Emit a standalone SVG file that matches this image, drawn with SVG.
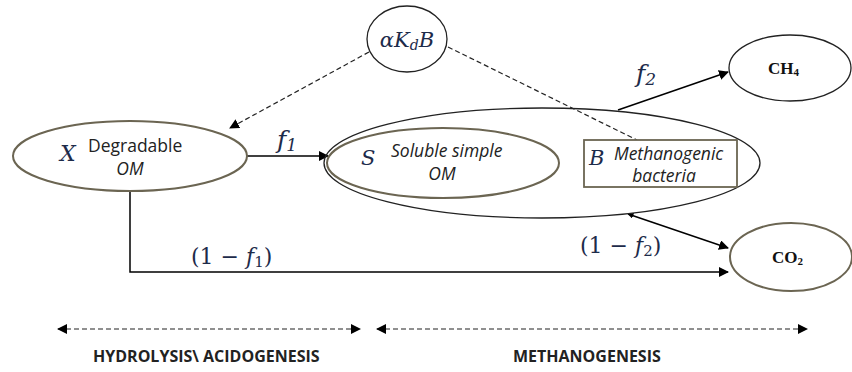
<svg xmlns="http://www.w3.org/2000/svg" width="852" height="372" viewBox="0 0 852 372">
<defs>
<marker id="ah" viewBox="0 0 10 10" refX="9" refY="5" markerWidth="10" markerHeight="10" markerUnits="userSpaceOnUse" orient="auto"><path d="M0,0 L10,5 L0,10 z" fill="#000"/></marker>
<marker id="ahs" viewBox="0 0 10 10" refX="9" refY="5" markerWidth="10" markerHeight="10" markerUnits="userSpaceOnUse" orient="auto-start-reverse"><path d="M0,0 L10,5 L0,10 z" fill="#000"/></marker>
<marker id="tiny" viewBox="0 0 10 10" refX="9" refY="5" markerWidth="6" markerHeight="6" markerUnits="userSpaceOnUse" orient="auto-start-reverse"><path d="M0,0 L10,5 L0,10 z" fill="#000"/></marker>
</defs>
<style>
.node{fill:none;stroke:#6b6552;stroke-width:2}
.thin{fill:none;stroke:#222;stroke-width:1.3}
.line{fill:none;stroke:#000;stroke-width:1.5}
.dash{fill:none;stroke:#222;stroke-width:1.2;stroke-dasharray:5 3}
.math{font-family:"DejaVu Serif","Liberation Serif",serif;font-style:italic;fill:#1d2b4a}
.mathr{font-family:"DejaVu Serif","Liberation Serif",serif;fill:#1d2b4a}
.lbl{font-family:"Open Sans","Liberation Sans",sans-serif;fill:#222;font-size:17.5px}
.it{font-style:italic}
.gas{font-family:"Liberation Serif",serif;font-weight:bold;font-size:17px;fill:#111}
.phase{font-family:"Open Sans","Liberation Sans",sans-serif;font-weight:bold;font-size:16px;fill:#222}
</style>
<rect width="852" height="372" fill="#fff"/>
<g id="connectors">
<path class="dash" d="M369,52 L230,128" marker-end="url(#ah)"/>
<path class="dash" d="M448,47 L637,140"/>
<path class="line" d="M247,156 L328,156" marker-end="url(#ah)"/>
<path class="line" d="M618,110 L728,72" marker-end="url(#ah)"/>
<path class="line" d="M628,214 L728,248" marker-start="url(#tiny)" marker-end="url(#ah)"/>
<path class="line" d="M130,191 L130,272 L728,272" marker-end="url(#ah)"/>
<text class="math" x="277" y="148" font-size="25">f<tspan class="mathr" font-size="17" dy="3">1</tspan></text>
<text class="math" x="636" y="82" font-size="25">f<tspan class="mathr" font-size="17" dy="3">2</tspan></text>
<text class="mathr" x="191" y="264" font-size="22">(1 − <tspan class="math">f</tspan><tspan font-size="15" dy="3">1</tspan><tspan dy="-3">)</tspan></text>
<text class="mathr" x="580" y="253" font-size="22">(1 − <tspan class="math">f</tspan><tspan font-size="15" dy="3">2</tspan><tspan dy="-3">)</tspan></text>
</g>
<g id="alphaKdB">
<ellipse class="thin" cx="407" cy="39" rx="40" ry="33"/>
<text class="math" x="407" y="47" font-size="21" text-anchor="middle">αK<tspan font-size="14" dy="3">d</tspan><tspan dy="-3">B</tspan></text>
</g>
<g id="X">
<ellipse class="node" cx="130" cy="156" rx="117" ry="35"/>
<text class="math" x="60" y="161" font-size="22">X</text>
<text class="lbl" x="88" y="152">Degradable</text>
<text class="lbl it" x="130" y="175" text-anchor="middle">OM</text>
</g>
<g id="group">
<ellipse class="thin" cx="542" cy="163" rx="218" ry="55"/>
</g>
<g id="S">
<ellipse class="node" cx="443" cy="163" rx="116" ry="35"/>
<text class="math" x="361" y="165" font-size="21">S</text>
<text class="lbl it" x="391" y="157">Soluble simple</text>
<text class="lbl it" x="442" y="180" text-anchor="middle">OM</text>
</g>
<g id="B">
<rect x="584" y="140" width="153" height="47" fill="#fff" stroke="#6b6552" stroke-width="1.8"/>
<text class="math" x="589" y="165" font-size="21">B</text>
<text class="lbl it" x="614" y="160">Methanogenic</text>
<text class="lbl it" x="664" y="182" text-anchor="middle">bacteria</text>
</g>
<g id="CH4">
<ellipse class="thin" cx="790" cy="68" rx="61" ry="33"/>
<text class="gas" x="768" y="74">CH<tspan font-size="11" dy="2">4</tspan></text>
</g>
<g id="CO2">
<ellipse class="node" cx="791" cy="257" rx="61" ry="34" stroke-width="1.6"/>
<text class="gas" x="772" y="263">CO<tspan font-size="11" dy="2">2</tspan></text>
</g>
<g id="phases">
<path class="dash" d="M58,329 L360,329" marker-start="url(#ahs)" marker-end="url(#ahs)"/>
<path class="dash" d="M377,329 L807,329" marker-start="url(#ahs)" marker-end="url(#ahs)"/>
<text class="phase" x="93" y="362">HYDROLYSIS\ ACIDOGENESIS</text>
<text class="phase" x="513" y="362">METHANOGENESIS</text>
</g>
</svg>
